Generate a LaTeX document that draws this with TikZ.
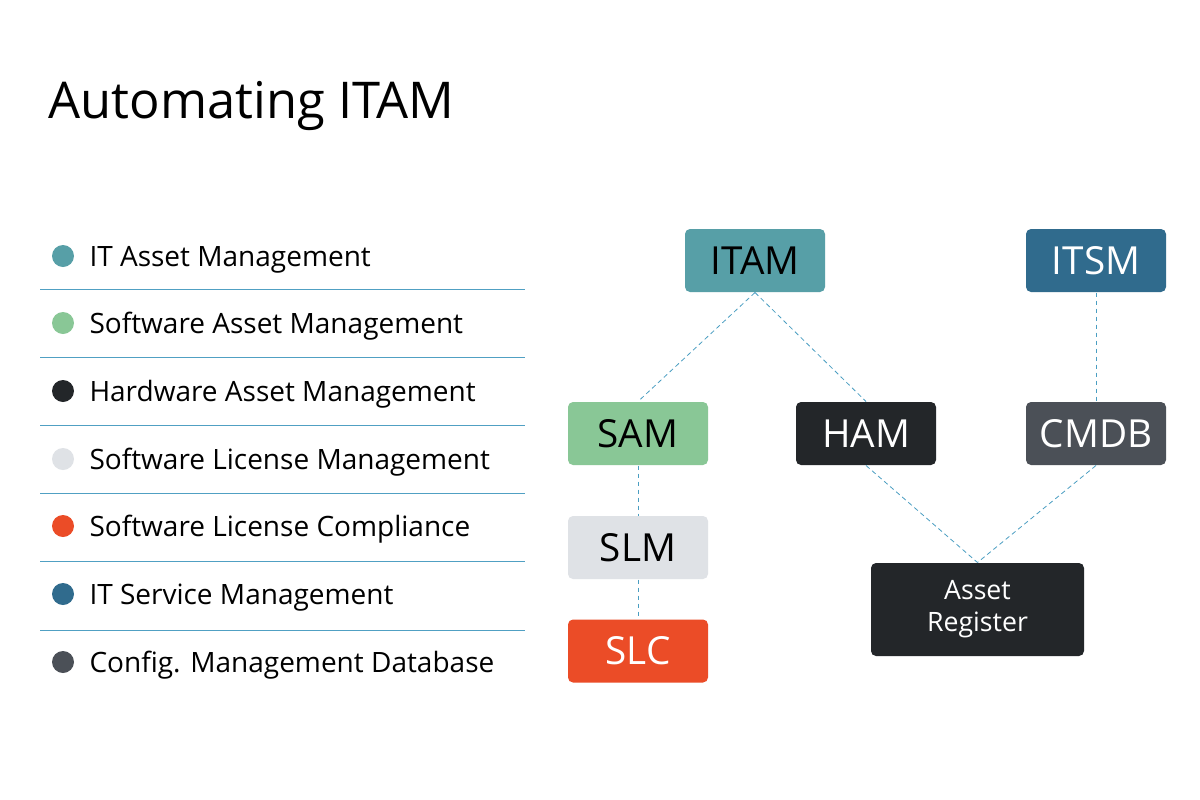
\documentclass[tikz,border=0pt]{standalone}
\usepackage{fontspec}
\setmainfont{Open Sans}

\definecolor{itamteal}{RGB}{87,159,167}
\definecolor{samgreen}{RGB}{137,199,150}
\definecolor{hamdark}{RGB}{35,38,41}
\definecolor{slmgray}{RGB}{223,226,230}
\definecolor{slcorange}{RGB}{235,76,39}
\definecolor{itsmblue}{RGB}{48,107,141}
\definecolor{cmdbgray}{RGB}{75,80,87}
\definecolor{linkblue}{RGB}{74,158,194}
\definecolor{ruleblue}{RGB}{80,160,195}

\tikzset{every picture/.style={line width=0.75pt}}
\tikzset{
  box/.style={rounded corners=3.75pt, minimum width=105pt, minimum height=47.25pt, inner sep=0pt, font=\fontsize{29}{34}\selectfont},
  link/.style={draw=linkblue, line width=0.6pt, dash pattern=on 3.5pt off 2.5pt},
  rule/.style={draw=ruleblue, line width=1pt},
  dot/.style={circle, minimum size=16.5pt, inner sep=0pt},
  legtext/.style={anchor=base west, inner sep=0pt, font=\fontsize{21}{25}\selectfont}
}

\begin{document}
\begin{tikzpicture}[x=0.75pt,y=0.75pt,yscale=-1,xscale=1]
%set diagram to 1200 x 800
\path[use as bounding box, fill=white] (0,0) rectangle (1200,800);

% Title
\node (title) [anchor=base west, inner sep=0pt, font=\fontsize{38}{46}\selectfont] at (48,118) {Automating ITAM};

% Legend dots
\node (d1) [dot, fill=itamteal] at (63,256) {};
\node (d2) [dot, fill=samgreen] at (63,323) {};
\node (d3) [dot, fill=hamdark] at (63,391) {};
\node (d4) [dot, fill=slmgray] at (63,459) {};
\node (d5) [dot, fill=slcorange] at (63,526) {};
\node (d6) [dot, fill=itsmblue] at (63,594) {};
\node (d7) [dot, fill=cmdbgray] at (63,662) {};

% Legend texts
\node (t1) [legtext] at (89,266) {IT Asset Management};
\node (t2) [legtext] at (89,333) {Software Asset Management};
\node (t3) [legtext] at (89,401) {Hardware Asset Management};
\node (t4) [legtext] at (89,469) {Software License Management};
\node (t5) [legtext] at (89,536) {Software License Compliance};
\node (t6) [legtext] at (89,604) {IT Service Management};
\node (t7) [legtext] at (89,672) {Config. Management Database};

% Legend rules
\draw [rule] (40,289.5) -- (525,289.5) ;
\draw [rule] (40,357.5) -- (525,357.5) ;
\draw [rule] (40,425.5) -- (525,425.5) ;
\draw [rule] (40,493.5) -- (525,493.5) ;
\draw [rule] (40,561.5) -- (525,561.5) ;
\draw [rule] (40,630.5) -- (525,630.5) ;

% Boxes
\node (itam) [box, fill=itamteal, text=black] at (755,260.5) {ITAM};
\node (itsm) [box, fill=itsmblue, text=white] at (1096,260.5) {ITSM};
\node (sam) [box, fill=samgreen, text=black] at (638,433.5) {SAM};
\node (ham) [box, fill=hamdark, text=white] at (866,433.5) {HAM};
\node (cmdb) [box, fill=cmdbgray, text=white] at (1096,433.5) {CMDB};
\node (slm) [box, fill=slmgray, text=black] at (638,547.5) {SLM};
\node (slc) [box, fill=slcorange, text=white] at (638,651) {SLC};
\node (reg) [box, fill=hamdark, text=white, minimum width=159.75pt, minimum height=69.75pt, align=center, font=\fontsize{20}{24}\selectfont] at (977.5,609.5) {Asset\\Register};

% Links
\draw [link] (itam.south) -- (sam.north) ;
\draw [link] (itam.south) -- (ham.north) ;
\draw [link] (itsm.south) -- (cmdb.north) ;
\draw [link] (sam.south) -- (slm.north) ;
\draw [link] (slm.south) -- (slc.north) ;
\draw [link] (ham.south) -- (reg.north) ;
\draw [link] (cmdb.south) -- (reg.north) ;

\end{tikzpicture}
\end{document}
